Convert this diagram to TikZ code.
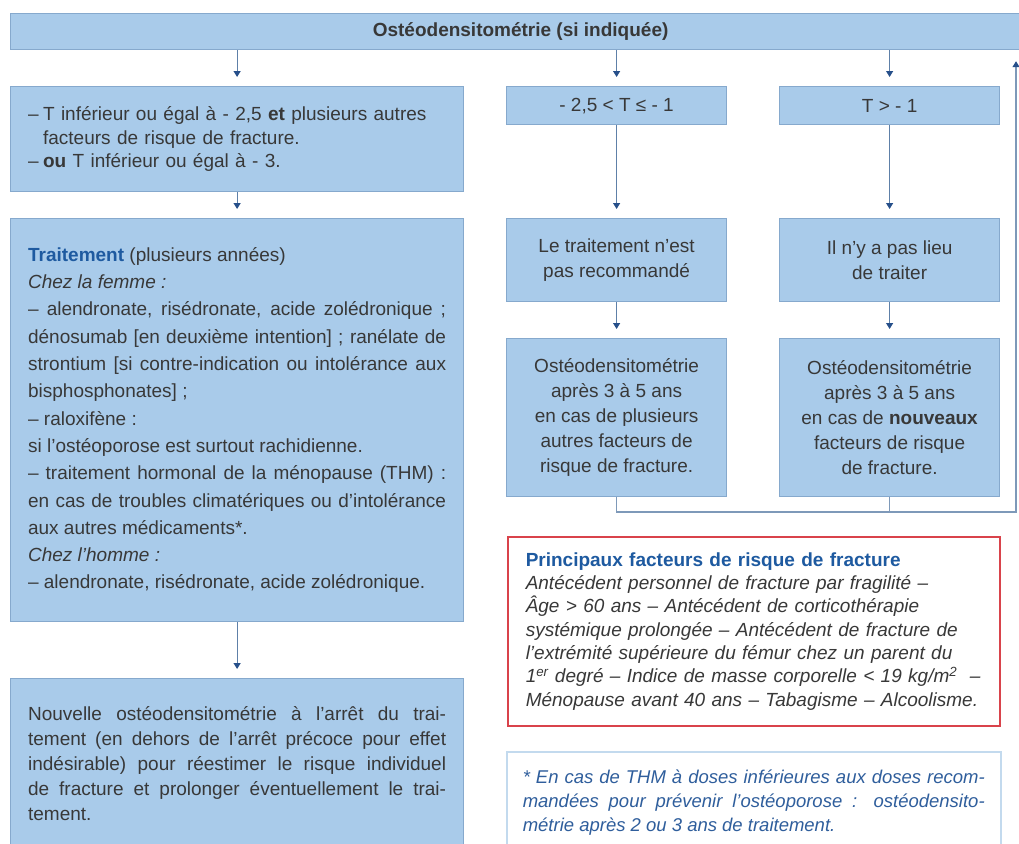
\documentclass[tikz,border=0pt]{standalone}
\usepackage{fontspec}
\setmainfont{Liberation Sans}
\usetikzlibrary{arrows.meta,calc}
\definecolor{boxfill}{HTML}{A9CBEA}
\definecolor{boxline}{HTML}{86A9CD}
\definecolor{flowline}{HTML}{5E80A8}
\definecolor{flowtip}{HTML}{264F8A}
\definecolor{headblue}{HTML}{1E5AA0}
\definecolor{notetext}{HTML}{2F5E9C}
\definecolor{noteline}{HTML}{C3DAEE}
\definecolor{riskline}{HTML}{D9434B}
\definecolor{bodytext}{HTML}{383838}
\def\colw{220}
\def\leftw{453}
\tikzset{
  bluebox/.style={
    draw=boxline, fill=boxfill, line width=1.2pt,
    anchor=north west, inner sep=0pt, text=bodytext, align=center,
    font=\fontsize{19}{25}\selectfont
  },
  bar/.style={bluebox, minimum width=1020, minimum height=36},
  col/.style={bluebox, minimum width=\colw},
  wide/.style={bluebox, minimum width=\leftw, text width=418},
  loose/.style={align=justify, execute at begin node={\tolerance=10000\relax}},
  riskbox/.style={
    draw=riskline, fill=white, line width=1.5pt,
    anchor=north west, inner sep=0pt, text=bodytext,
    text width=456, align=left, minimum width=492, minimum height=189,
    font=\fontsize{19}{23.3}\selectfont
  },
  notebox/.style={
    draw=noteline, fill=white, line width=1.5pt,
    anchor=north west, inner sep=0pt, text=notetext,
    text width=462, loose, minimum width=494, minimum height=102,
    font=\fontsize{18.5}{24}\selectfont\itshape
  },
  flow/.style={draw=flowline, line width=1.2pt, shorten >=9pt,
    -{Triangle[width=7pt,length=6pt,color=flowtip]}},
  back/.style={draw=flowline!80, line width=1.2pt},
}

\begin{document}
\begin{tikzpicture}[x=1pt,y=-1pt]
  \useasboundingbox (0,0) rectangle (1019,843);

  \path
    (10,13) node[bar] (osteo) {\textbf{Ostéodensitométrie (si indiquée)}}
    (10,86) node[wide, minimum height=105, align=left,
                 font=\fontsize{19}{23.5}\selectfont] (tlow)
      {\makebox[15pt][l]{–}T inférieur ou égal à - 2,5 \textbf{et} plusieurs autres\\
       \hspace*{15pt}facteurs de risque de fracture.\\
       \makebox[15pt][l]{–}\textbf{ou} T inférieur ou égal à - 3.}
    (506,86) node[col, minimum height=38] (tmid) {- 2,5 < T ≤ - 1}
    (779,86) node[col, minimum height=38] (thigh) {T > - 1}
  ;

  \path
    (10,218) node[wide, loose, minimum height=403,
                  font=\fontsize{19}{27.3}\selectfont] (trait)
      {\textcolor{headblue}{\textbf{Traitement}} (plusieurs années)\\
       \textit{Chez la femme :}\\
       – alendronate, risédronate, acide zolédronique ;\linebreak
       dénosumab [en deuxième intention] ; ranélate de\linebreak
       strontium [si contre-indication ou intolérance aux\linebreak
       bisphosphonates] ;\\
       – raloxifène :\\
       si l’ostéoporose est surtout rachidienne.\\
       – traitement hormonal de la ménopause (THM) :\linebreak
       en cas de troubles climatériques ou d’intolérance\linebreak
       aux autres médicaments*.\\
       \textit{Chez l’homme :}\\
       – alendronate, risédronate, acide zolédronique.}
    (506,218) node[col, minimum height=83] (nonrec) {Le traitement n’est\\pas recommandé}
    (779,218) node[col, minimum height=83] (nonlieu) {Il n’y a pas lieu\\de traiter}
    (506,338) node[col, minimum height=158] (osteomid)
      {Ostéodensitométrie\\après 3 à 5 ans\\en cas de plusieurs\\autres facteurs de\\risque de fracture.}
    (779,338) node[col, minimum height=158] (osteohigh)
      {Ostéodensitométrie\\après 3 à 5 ans\\en cas de \textbf{nouveaux}\\facteurs de risque\\de fracture.}
  ;

  \path
    (10,678) node[wide, loose, minimum height=170] (nouvelle)
      {Nouvelle ostéodensitométrie à l’arrêt du trai-\linebreak
       tement (en dehors de l’arrêt précoce pour effet\linebreak
       indésirable) pour réestimer le risque individuel\linebreak
       de fracture et prolonger éventuellement le trai-\linebreak
       tement.}
    (507,536) node[riskbox] (facteurs)
      {\textcolor{headblue}{\textbf{Principaux facteurs de risque de fracture}}\\
       {\itshape Antécédent personnel de fracture par fragilité –\\
       Âge > 60 ans – Antécédent de corticothérapie\\
       systémique prolongée – Antécédent de fracture de\\
       l’extrémité supérieure du fémur chez un parent du\\
       1\textsuperscript{er} degré – Indice de masse corporelle < 19 kg/m\textsuperscript{2}~ –\\
       Ménopause avant 40 ans – Tabagisme – Alcoolisme.}}
    (506,751) node[notebox] (note)
      {* En cas de THM à doses inférieures aux doses recom-\linebreak
       mandées pour prévenir l’ostéoporose : ostéodensito-\linebreak
       métrie après 2 ou 3 ans de traitement.}
  ;

  \foreach \b in {tlow, tmid, thigh}
    \draw[flow] (osteo.south -| \b) -- (\b);
  \foreach \a/\b in {tlow/trait, tmid/nonrec, thigh/nonlieu,
                     nonrec/osteomid, nonlieu/osteohigh, trait/nouvelle}
    \draw[flow] (\a) -- (\b);

  \coordinate (retour) at (1016,512);
  \draw[back] (osteohigh.south) -- (osteohigh.south |- retour);
  \draw[back, shorten >=11pt, -{Triangle[width=7pt,length=6pt,color=flowtip]}]
    (osteomid.south) |- (retour) -- (osteo.south -| retour);
\end{tikzpicture}
\end{document}
